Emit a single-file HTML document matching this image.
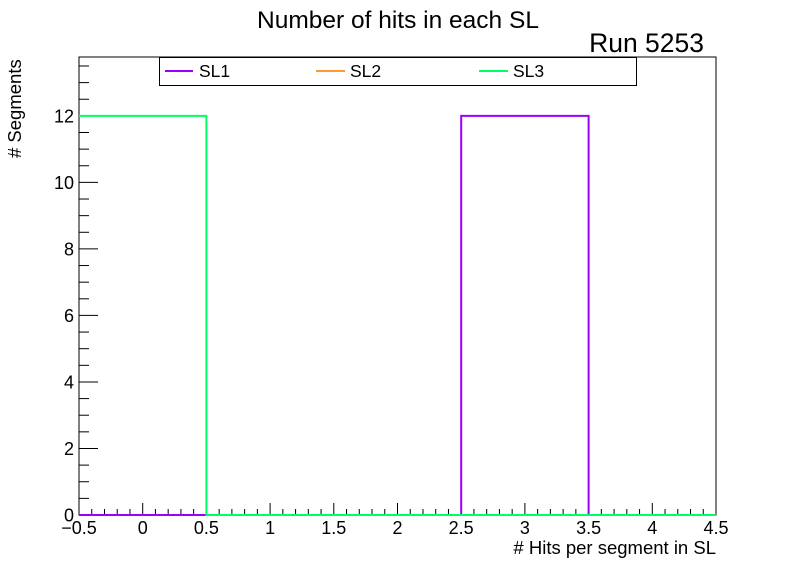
<!DOCTYPE html>
<html><head><meta charset="utf-8"><style>
body{margin:0;background:#fff}
text{font-family:"Liberation Sans",Arial,sans-serif;fill:#000}
</style></head><body>
<svg id="c" width="796" height="572">
<text x="398" y="28" font-size="24.5" text-anchor="middle">Number of hits in each SL</text>
<text x="704" y="52" font-size="26.5" text-anchor="end">Run 5253</text>
<text x="716" y="554" font-size="18.5" text-anchor="end"># Hits per segment in SL</text>
<text transform="translate(21,158) rotate(-90)" font-size="18.5"># Segments</text>
<g id="axes"></g>
<g id="series"></g>
<g>
<rect x="159.5" y="57.5" width="477" height="28" fill="#fff" stroke="#000"/>
<line x1="165" x2="193" y1="71" y2="71" stroke="#9900ff" stroke-width="2"/>
<text x="199" y="77" font-size="17.5">SL1</text>
<line x1="316" x2="345" y1="71" y2="71" stroke="#ff9933" stroke-width="2"/>
<text x="350" y="77" font-size="17.5">SL2</text>
<line x1="479" x2="508" y1="71" y2="71" stroke="#00ff66" stroke-width="2"/>
<text x="513" y="77" font-size="17.5">SL3</text>
</g>
</svg>
<script>
const binCenters=[0,1,2,3,4];
const sl1=[0,0,0,12,0];
const sl2=[0,0,0,0,0];
const sl3=[12,0,0,0,0];
const xTicks=["-0.5","0","0.5","1","1.5","2","2.5","3","3.5","4","4.5"];
const yTicks=["0","2","4","6","8","10","12"];
const X0=79,X1=716,Y0=515,Y1=57,xmin=-0.5,xmax=4.5,ymax=13.77;
const sx=v=>X0+(v-xmin)/(xmax-xmin)*(X1-X0);
const sy=v=>Y0-v/ymax*(Y0-Y1);
const NS="http://www.w3.org/2000/svg";
function mk(t,a,p){const e=document.createElementNS(NS,t);for(const k in a)e.setAttribute(k,a[k]);p.appendChild(e);return e;}
const ax=document.getElementById('axes');
const fr=mk('rect',{x:X0,y:Y1,width:X1-X0,height:Y0-Y1,fill:'none',stroke:'#000'},ax);


for(let i=0;i<=50;i++){const v=xmin+i*0.1,x=sx(v),maj=i%5==0;
 const l=mk('line',{x1:x,x2:x,y1:Y0,y2:Y0-(maj?12:6),stroke:'#000'},ax);
 
 }
xTicks.forEach(s=>{const t=mk('text',{x:sx(parseFloat(s)),y:Y0+19,'font-size':18,'text-anchor':'middle'},ax);t.textContent=s.replace('-','−');
 
 });
for(let v=0;v<=13.5;v+=0.5){const y=sy(v),maj=v%2==0;
 const l=mk('line',{x1:X0,x2:X0+(maj?19:10),y1:y,y2:y,stroke:'#000'},ax);
 
 }
yTicks.forEach(s=>{const t=mk('text',{x:X0-5,y:sy(+s)+6.5,'font-size':18,'text-anchor':'end'},ax);t.textContent=s;
 
 });
const sg=document.getElementById('series');
function hist(vals,col,name){let d='';binCenters.forEach((c,i)=>{const a=sx(c-0.5),b=sx(c+0.5),y=sy(vals[i]);d+=(i==0?'M':'L')+a+','+y+'L'+b+','+y;});
 const p=mk('path',{d:d,fill:'none',stroke:col,'stroke-width':2},sg);
 
 }
hist(sl2,'#ff9933','series-sl2');
hist(sl1,'#9900ff','series-sl1');
hist(sl3,'#00ff66','series-sl3');
</script>
</body></html>
